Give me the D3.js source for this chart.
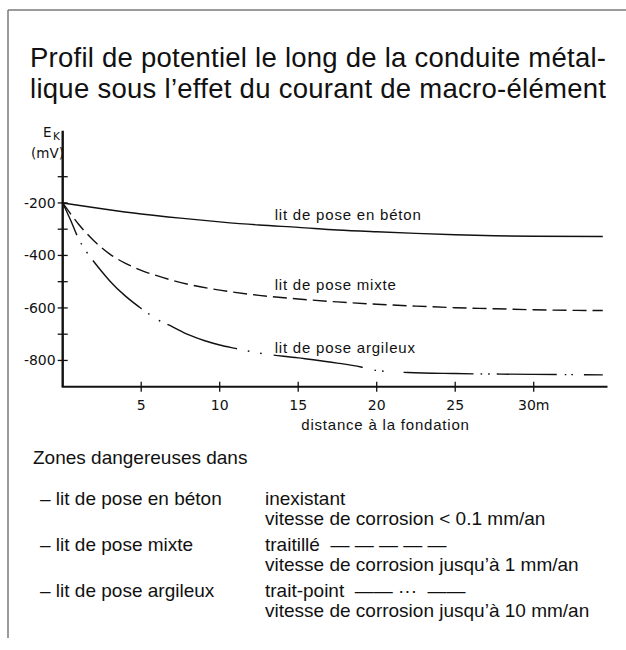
<!DOCTYPE html>
<html>
<head>
<meta charset="utf-8">
<script src="https://cdn.jsdelivr.net/npm/d3@7"></script>
<style>
  html, body { margin: 0; padding: 0; background: #fff; }
  svg { display: block; }
  .sans { font-family: "Liberation Sans", Arial, sans-serif; fill: #111; }
  .plot { font-family: "DejaVu Sans", sans-serif; fill: #111; }
</style>
</head>
<body>
<svg id="chart" width="626" height="650"></svg>
<script>
// Distance from the foundation (m) and potential E_K (mV) for each bedding type
const distBeton = [0, 2.5, 5, 7.5, 10, 12.5, 15, 17.5, 20, 22.5, 25, 27.5, 30, 34.4];
const valBeton  = [-200, -222, -242, -258, -272, -284, -293, -303, -310, -316, -321, -325, -327, -328];

const distMixte = [0, 1, 2, 3, 4, 5, 6, 7, 8, 10, 12.5, 15, 17.5, 20, 22.5, 25, 27.5, 30, 34.4];
const valMixte  = [-200, -280, -345, -395, -430, -457, -477, -495, -510, -532, -552, -566, -577, -586, -593, -599, -603, -607, -610];

const distArgile = [0, 0.5, 1, 1.5, 2, 2.5, 3, 4, 5, 6, 7, 8, 9, 10, 11, 12.5, 15, 17.5, 19, 20, 22, 25, 30, 34.4];
const valArgile  = [-200, -265, -335, -385, -425, -462, -497, -555, -602, -643, -672, -702, -724, -741, -754, -772, -790, -810, -825, -838, -846, -850, -853, -855];

const curveLabels = ["lit de pose en béton", "lit de pose mixte", "lit de pose argileux"];
const labelDist   = [13.5, 13.5, 13.5];
const labelValue  = [-265, -530, -770];

const xTicks = [5, 10, 15, 20, 25, 30];
const xTickLabels = ["5", "10", "15", "20", "25", "30m"];
const yTicks = [-800, -700, -600, -500, -400, -300, -200, -100];
const yTickLabels = [-800, -600, -400, -200];

const titleLines = [
  "Profil de potentiel le long de la conduite métal-",
  "lique sous l\u2019effet du courant de macro-élément"
];
const legendHead = "Zones dangereuses dans";
const legendNames = ["\u2013 lit de pose en béton", "\u2013 lit de pose mixte", "\u2013 lit de pose argileux"];
const legendStyle = ["inexistant", "traitillé  \u2014 \u2014 \u2014 \u2014 \u2014", "trait-point  \u2014\u2014 \u00b7\u00b7\u00b7  \u2014\u2014"];
const legendRate  = ["vitesse de corrosion < 0.1 mm/an", "vitesse de corrosion jusqu\u2019à 1 mm/an", "vitesse de corrosion jusqu\u2019à 10 mm/an"];

const svg = d3.select("#chart");

// page frame: top rule and left rule
svg.append("line").attr("x1", 8).attr("x2", 626).attr("y1", 10).attr("y2", 10)
  .attr("stroke", "#7a7a7a").attr("stroke-width", 1.5);
svg.append("line").attr("x1", 8).attr("x2", 8).attr("y1", 10).attr("y2", 638)
  .attr("stroke", "#7a7a7a").attr("stroke-width", 1.5);

// title, both lines set to the same measure
svg.append("g").selectAll("text").data(titleLines).join("text")
  .attr("class", "sans")
  .attr("x", 30).attr("y", (d, i) => 67 + i * 31)
  .attr("font-size", 27.5)
  .attr("textLength", 576).attr("lengthAdjust", "spacing")
  .text(d => d);

// scales
const x = d3.scaleLinear().domain([0, 34.7]).range([62.7, 607.5]);
const y = d3.scaleLinear().domain([-900, 75]).range([386.7, 130.75]);

const plot = svg.append("g");

// axes drawn as plain rules with crossing ticks
plot.append("line").attr("x1", x(0)).attr("x2", x(0)).attr("y1", y(75)).attr("y2", y(-900))
  .attr("stroke", "#111").attr("stroke-width", 2.4);
plot.append("line").attr("x1", x(0) - 1).attr("x2", x(34.7)).attr("y1", y(-900)).attr("y2", y(-900))
  .attr("stroke", "#111").attr("stroke-width", 2);

plot.append("g").selectAll("line").data(yTicks).join("line")
  .attr("x1", x(0) - 5).attr("x2", x(0) + 5)
  .attr("y1", d => y(d)).attr("y2", d => y(d))
  .attr("stroke", "#111").attr("stroke-width", 1.3);
plot.append("g").selectAll("text").data(yTickLabels).join("text")
  .attr("class", "plot")
  .attr("x", x(0) - 7).attr("y", d => y(d) + 5)
  .attr("text-anchor", "end").attr("font-size", 14)
  .text(d => "-" + Math.abs(d));

plot.append("g").selectAll("line").data(xTicks).join("line")
  .attr("x1", d => x(d)).attr("x2", d => x(d))
  .attr("y1", y(-900) - 5).attr("y2", y(-900) + 5)
  .attr("stroke", "#111").attr("stroke-width", 1.3);
plot.append("g").selectAll("text").data(xTicks).join("text")
  .attr("class", "plot")
  .attr("x", d => x(d)).attr("y", y(-900) + 23)
  .attr("text-anchor", "middle").attr("font-size", 14)
  .text((d, i) => xTickLabels[i]);

// y-axis unit label E_K (mV)
const ek = plot.append("text").attr("class", "plot").attr("x", 43).attr("y", 137).attr("font-size", 13.5);
ek.append("tspan").text("E");
ek.append("tspan").attr("font-size", 10.5).attr("dx", 1.5).attr("dy", 3).text("K");
plot.append("text").attr("class", "plot").attr("x", 31).attr("y", 157.5).attr("font-size", 13.5).text("(mV)");

// x-axis title
plot.append("text").attr("class", "sans")
  .attr("x", 385.5).attr("y", 430).attr("text-anchor", "middle")
  .attr("font-size", 15).attr("letter-spacing", 0.8)
  .text("distance à la fondation");

// curves
const line = d3.line().x(d => x(d[0])).y(d => y(d[1])).curve(d3.curveMonotoneX);
const series = [
  { pts: d3.zip(distBeton, valBeton), dash: null },
  { pts: d3.zip(distMixte, valMixte), dash: "14,6" },
  { pts: d3.zip(distArgile, valArgile),
    dash: "35,9,1.6,9,1.6,9,69,8,1.6,11,1.6,8,74,11,1.6,11,1.6,12,90,12,1.6,6,1.6,20,70,7,1.6,6,1.6,7,60,8,1.6,5,1.6,11,40" }
];
plot.append("g").selectAll("path").data(series).join("path")
  .attr("d", d => line(d.pts))
  .attr("fill", "none").attr("stroke", "#111").attr("stroke-width", 1.4)
  .attr("stroke-dasharray", d => d.dash);

// curve labels
plot.append("g").selectAll("text").data(curveLabels).join("text")
  .attr("class", "sans")
  .attr("x", (d, i) => x(labelDist[i])).attr("y", (d, i) => y(labelValue[i]))
  .attr("font-size", 15).attr("letter-spacing", 0.8)
  .text(d => d);

// legend block
const lg = svg.append("g").attr("class", "sans").attr("font-size", 19);
lg.append("text").attr("x", 33).attr("y", 464).text(legendHead);
const rowY = [505, 551, 597];
lg.selectAll("text.name").data(legendNames).join("text").attr("class", "name sans")
  .attr("x", 40).attr("y", (d, i) => rowY[i]).text(d => d);
lg.selectAll("text.style").data(legendStyle).join("text").attr("class", "style sans")
  .attr("x", 265).attr("y", (d, i) => rowY[i]).style("white-space", "pre").text(d => d);
lg.selectAll("text.rate").data(legendRate).join("text").attr("class", "rate sans")
  .attr("x", 265).attr("y", (d, i) => rowY[i] + 20).text(d => d);
</script>
</body>
</html>
